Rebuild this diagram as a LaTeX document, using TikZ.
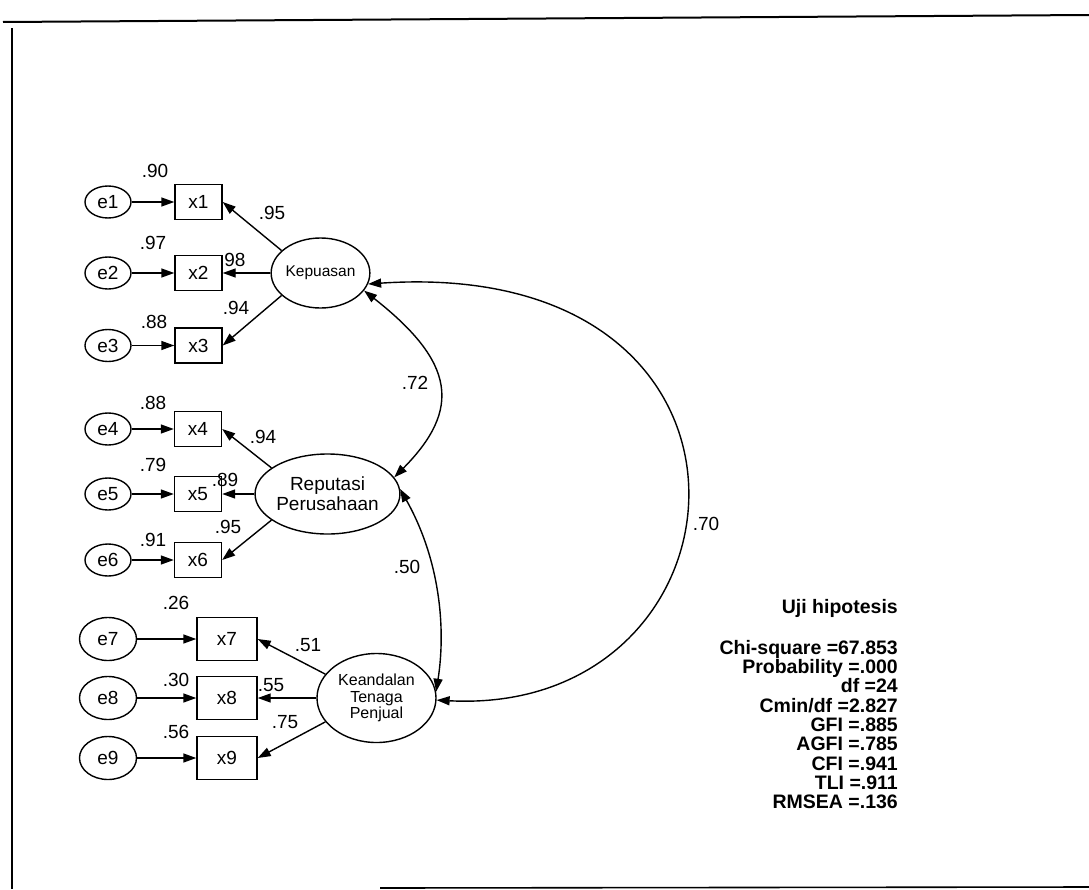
\documentclass[tikz,border=0pt]{standalone}
\usepackage{fontspec}
\setmainfont{Liberation Sans}
\usetikzlibrary{shapes.geometric,arrows.meta}
\begin{document}
\begin{tikzpicture}[x=1pt,y=-1pt,
  lw/.style={line width=1.4pt},
  errn/.style={ellipse,draw,lw,minimum width=46pt,minimum height=32pt,inner sep=0pt,font=\fontsize{19}{22}\selectfont},
  errb/.style={errn,minimum width=57pt,minimum height=43pt},
  obs/.style={rectangle,draw,lw,minimum width=47pt,minimum height=35pt,inner sep=0pt,font=\fontsize{19}{22}\selectfont},
  obsb/.style={obs,minimum width=60pt,minimum height=43pt},
  lat/.style={ellipse,draw,lw,inner sep=0pt,align=center},
  lab/.style={font=\fontsize{19}{22}\selectfont,inner sep=0pt},
  tip/.tip={Triangle[length=13pt,width=9pt]},
  arr/.style={lw,-tip},
  cov/.style={lw,tip-tip},
  fitt/.style={font=\bfseries\fontsize{19.5}{19.3}\selectfont,align=right,inner sep=0pt},
  framel/.style={line width=2pt}
]
\useasboundingbox (0,0) rectangle (1089,889);
\fill[white] (0,0) rectangle (1089,889);

% frame
\coordinate (tl) at (3,22);
\coordinate (tr) at (1089,15);
\coordinate (lt) at (12,28);
\coordinate (lb) at (12,889);
\coordinate (bl) at (380,888);
\coordinate (br) at (1089,887);
\draw[framel] (tl) -- (tr);
\draw[line width=1.6pt] (lt) -- (lb);
\draw[line width=1.6pt] (bl) -- (br);

% error terms
\node[errn] (e1) at (108,202) {e1};
\node[errn] (e2) at (108,273) {e2};
\node[errn] (e3) at (108,345.5) {e3};
\node[errn] (e4) at (108,429) {e4};
\node[errn] (e5) at (108,494) {e5};
\node[errn] (e6) at (108,560) {e6};
\node[errb] (e7) at (108,639) {e7};
\node[errb] (e8) at (108,698) {e8};
\node[errb] (e9) at (108,758) {e9};

% observed
\node[obs] (x1) at (198.5,202) {x1};
\node[obs] (x2) at (198.5,273) {x2};
\node[obs] (x3) at (198.5,345.5) {x3};
\node[obs] (x4) at (198,429) {x4};
\node[obs] (x5) at (198,494) {x5};
\node[obs] (x6) at (198,560) {x6};
\node[obsb] (x7) at (227,639) {x7};
\node[obsb] (x8) at (227,698) {x8};
\node[obsb] (x9) at (227,758) {x9};

% latent
\node[lat,minimum width=89pt,minimum height=70pt,font=\fontsize{15.5}{17}\selectfont] (kep) at (320.5,273) {Kepuasan};
\node[lat,minimum width=139pt,minimum height=80pt,font=\fontsize{19}{20}\selectfont] (rep) at (327.5,494) {Reputasi\\Perusahaan};
\node[lat,minimum width=119pt,minimum height=89pt,font=\fontsize{16}{16.5}\selectfont] (kea) at (376.5,698) {Keandalan\\Tenaga\\Penjual};

% error arrows
\foreach \i in {1,...,9} {\draw[arr] (e\i) -- (x\i);}

% loadings
\draw[arr] (kep.150) -- (x1.east);
\draw[arr] (kep.west) -- (x2.east);
\draw[arr] (kep.-150) -- (x3.east);
\draw[arr] (rep.155) -- (x4.east);
\draw[arr] (rep.west) -- (x5.east);
\draw[arr] (rep.-155) -- (x6.east);
\draw[arr] (kea.155) -- (x7.east);
\draw[arr] (kea.west) -- (x8.east);
\draw[arr] (kea.-155) -- (x9.east);

% covariances
\draw[cov] (kep.-22) .. controls (455,362) and (462,409) .. (rep.14);
\draw[cov] (rep.4) .. controls (440,560) and (446,628) .. (kea.6);
\draw[cov] (kep.-13) .. controls (800,255) and (760,717) .. (kea.-2);

% labels
\node[lab] (l1) at (155,171) {.90};
\node[lab] (l2) at (153,243) {.97};
\node[lab] (l3) at (154,322) {.88};
\node[lab] (l4) at (153,403) {.88};
\node[lab] (l5) at (153,465) {.79};
\node[lab] (l6) at (153,540) {.91};
\node[lab] (l7) at (176,603) {.26};
\node[lab] (l8) at (176,680) {.30};
\node[lab] (l9) at (176,732) {.56};
\node[lab] (k1) at (272,213) {.95};
\node[lab] (k2) at (235,260) {98};
\node[lab] (k3) at (236,308) {.94};
\node[lab] (k4) at (263,437) {.94};
\node[lab] (k5) at (225,480) {.89};
\node[lab] (k6) at (228,527) {.95};
\node[lab] (k7) at (308,645) {.51};
\node[lab] (k8) at (271,685) {.55};
\node[lab] (k9) at (285,722) {.75};
\node[lab] (c1) at (415,383) {.72};
\node[lab] (c2) at (407,567) {.50};
\node[lab] (c3) at (706,524) {.70};

% fit block
\node[fitt,anchor=base east] (uji) at (898,613) {Uji hipotesis};
\node[fitt,anchor=north east] (fit) at (898,640) {Chi-square =67.853\\Probability =.000\\df =24\\Cmin/df =2.827\\GFI =.885\\AGFI =.785\\CFI =.941\\TLI =.911\\RMSEA =.136};
\end{tikzpicture}
\end{document}
